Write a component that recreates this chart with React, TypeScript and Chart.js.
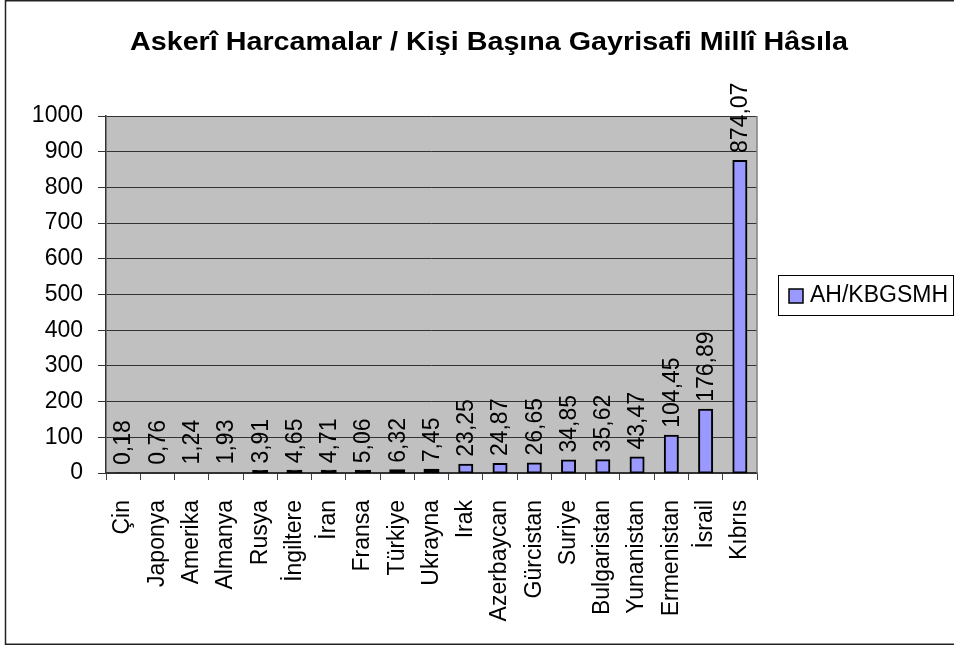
import React, { useEffect, useRef } from "react";
import { Chart, registerables } from "chart.js";

Chart.register(...registerables);

const TITLE = "Askerî Harcamalar / Kişi Başına Gayrisafi Millî Hâsıla";
const SERIES_LABEL = "AH/KBGSMH";
const countries = [
  "Çin", "Japonya", "Amerika", "Almanya", "Rusya", "İngiltere", "İran", "Fransa", "Türkiye",
  "Ukrayna", "Irak", "Azerbaycan", "Gürcistan", "Suriye", "Bulgaristan", "Yunanistan",
  "Ermenistan", "İsrail", "Kıbrıs",
];
const values = [
  0.18, 0.76, 1.24, 1.93, 3.91, 4.65, 4.71, 5.06, 6.32, 7.45, 23.25, 24.87, 26.65, 34.85,
  35.62, 43.47, 104.45, 176.89, 874.07,
];
const yMin = 0;
const yMax = 1000;
const yStep = 100;

const FONT = "'Liberation Sans', Arial, sans-serif";
const fmt = (v: number) => v.toFixed(2).replace(".", ",");

const W = 980;
const H = 648;

const barPixelHeight = (c: any) => {
  const y = c.chart.scales.y;
  if (!y || c.raw == null) return 0;
  return Math.abs(y.getPixelForValue(0) - y.getPixelForValue(c.raw));
};

export default function App() {
  const ref = useRef<HTMLCanvasElement | null>(null);

  useEffect(() => {
    const canvas = ref.current;
    if (!canvas) return;

    const decor = {
      id: "decor",
      beforeDraw(chart: any) {
        const { ctx, chartArea } = chart;
        ctx.save();
        ctx.fillStyle = "#ffffff";
        ctx.fillRect(0, 0, chart.width, chart.height);
        ctx.fillStyle = "#C0C0C0";
        ctx.fillRect(chartArea.left, chartArea.top, chartArea.right - chartArea.left, chartArea.bottom - chartArea.top);
        ctx.restore();
      },
      afterDatasetsDraw(chart: any) {
        const { ctx } = chart;
        const meta = chart.getDatasetMeta(0);
        ctx.save();
        ctx.fillStyle = "#000";
        ctx.font = `23px ${FONT}`;
        ctx.textAlign = "left";
        ctx.textBaseline = "middle";
        meta.data.forEach((el: any, i: number) => {
          ctx.save();
          ctx.translate(el.x + 1, el.y - 8);
          ctx.rotate(-Math.PI / 2);
          ctx.fillText(fmt(chart.data.datasets[0].data[i]), 0, 0);
          ctx.restore();
        });
        ctx.restore();
      },
      afterDraw(chart: any) {
        const { ctx, chartArea } = chart;
        ctx.save();
        // plot right border
        ctx.strokeStyle = "#808080";
        ctx.lineWidth = 1.5;
        ctx.beginPath();
        ctx.moveTo(chartArea.right, chartArea.top);
        ctx.lineTo(chartArea.right, chartArea.bottom);
        ctx.stroke();
        // outer frame
        ctx.strokeStyle = "#222";
        ctx.lineWidth = 1.5;
        ctx.strokeRect(5.5, 0.75, chart.width + 20, 643.5);
        // title (stretched horizontally like the original rendering)
        ctx.fillStyle = "#000";
        ctx.font = `bold 25px ${FONT}`;
        ctx.textAlign = "center";
        ctx.textBaseline = "middle";
        const tw = ctx.measureText(TITLE).width;
        const sx = 718 / tw;
        ctx.save();
        ctx.translate(489, 43);
        ctx.scale(sx, 1);
        ctx.fillText(TITLE, 0, 0);
        ctx.restore();
        // legend
        ctx.strokeStyle = "#000";
        ctx.lineWidth = 1;
        ctx.strokeRect(778.5, 275.5, 175, 40);
        ctx.fillStyle = "#9999FF";
        ctx.fillRect(789, 289, 14, 14);
        ctx.lineWidth = 1.5;
        ctx.strokeRect(789, 289, 14, 14);
        ctx.fillStyle = "#000";
        ctx.font = `23px ${FONT}`;
        ctx.textAlign = "left";
        ctx.fillText(chart.data.datasets[0].label, 810, 296);
        ctx.restore();
      },
    };

    const chart = new Chart(canvas, {
      type: "bar",
      data: {
        labels: countries,
        datasets: [
          {
            label: SERIES_LABEL,
            data: values,
            backgroundColor: (c: any) => {
              const h = barPixelHeight(c);
              return h > 1.2 && h < 4 ? "#000000" : "#9999FF";
            },
            borderColor: "#000000",
            borderWidth: 2,
            borderSkipped: false,
            inflateAmount: (c: any) => {
              const h = barPixelHeight(c);
              return h > 1.2 ? (h < 4 ? 1.5 : 1) : 0;
            },
            categoryPercentage: 1,
            barPercentage: 0.38,
          },
        ],
      },
      options: {
        responsive: false,
        animation: false,
        layout: { padding: { left: 0, top: 116, right: W - 757, bottom: 0 } },
        plugins: { legend: { display: false }, title: { display: false }, tooltip: { enabled: false } },
        scales: {
          x: {
            grid: { display: true, drawOnChartArea: false, drawTicks: true, tickLength: 7, color: "#404040", offset: true },
            border: { display: true, color: "#333", width: 1.5 },
            ticks: {
              minRotation: 90,
              maxRotation: 90,
              autoSkip: false,
              color: "#000",
              padding: 20,
              font: { family: FONT, size: 23 },
            },
            afterFit: (s: any) => {
              s.height = H - 473;
            },
          },
          y: {
            min: yMin,
            max: yMax,
            grid: { color: "#333", tickLength: 8, lineWidth: 1 },
            border: { display: true, color: "#333", width: 1.5 },
            ticks: {
              stepSize: yStep,
              color: "#000",
              padding: 15,
              font: { family: FONT, size: 23 },
              callback: (v: any) => String(v),
            },
            afterFit: (s: any) => {
              s.width = 106;
            },
          },
        },
      },
      plugins: [decor],
    });
    return () => chart.destroy();
  }, []);

  return (
    <div style={{ position: "fixed", left: 0, top: 0, width: "100vw", height: "100vh", overflow: "hidden", background: "#fff" }}>
      <canvas ref={ref} width={W} height={H} style={{ width: W, height: H, display: "block" }} />
    </div>
  );
}
